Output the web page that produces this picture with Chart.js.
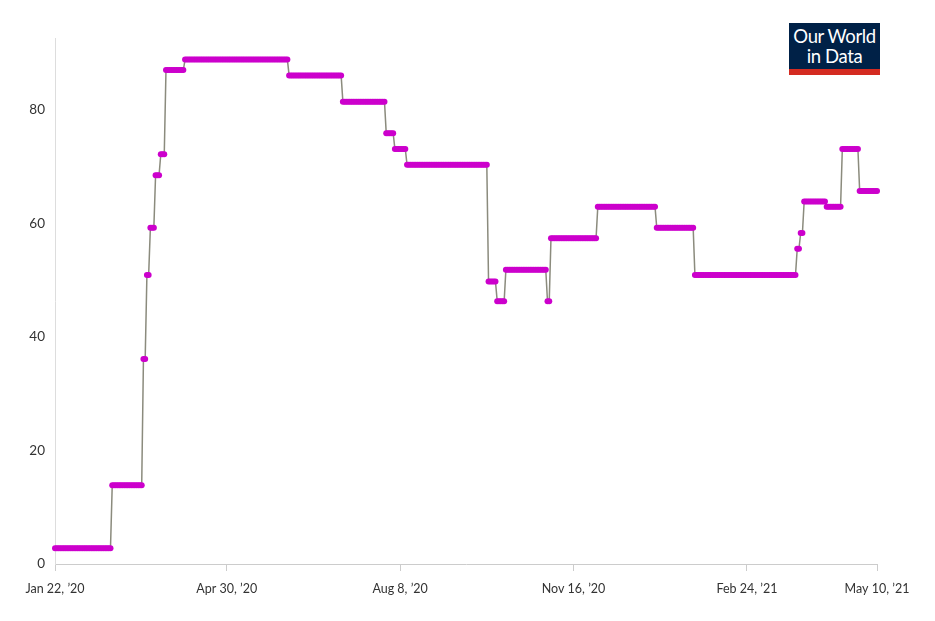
<!DOCTYPE html>
<html>
<head>
<meta charset="utf-8">
<script src="https://cdn.jsdelivr.net/npm/chart.js@4.4.0/dist/chart.umd.min.js"></script>
<style>
  html, body { margin: 0; padding: 0; background: #fff; }
  #wrap { position: relative; width: 935px; height: 621px; }
  #logo { position: absolute; left: 789px; top: 23px; width: 91px; height: 52px; background: #002147; box-sizing: border-box; border-bottom: 6px solid #d42b21; color: #fff; font-family: Lato, sans-serif; font-size: 18.5px; line-height: 19.5px; text-align: center; padding-top: 4px; letter-spacing: -0.4px; }
</style>
</head>
<body>
<div id="wrap">
  <canvas id="c" width="935" height="621"></canvas>
  <div id="logo">Our World<br>in Data</div>
</div>
<script>
// Step data: day offset from Jan 22, 2020 where each level begins, and the level.
const stepStartDays = [0, 33, 51, 53, 55, 58, 61, 64, 75, 135, 166, 191, 196, 203, 250, 255, 260, 284, 286, 313, 347, 369, 428, 430, 432, 445, 454, 464];
const stepValues    = [2.78, 13.89, 36.11, 50.93, 59.26, 68.52, 72.22, 87.04, 88.89, 86.11, 81.48, 75.93, 73.15, 70.37, 49.77, 46.3, 51.85, 46.3, 57.41, 62.96, 59.26, 50.93, 55.56, 58.33, 63.89, 62.96, 73.15, 65.74];
const lastDay = 474;
const xTickDays   = [0, 99, 199, 299, 399, 474];
const xTickLabels = ["Jan 22, \u201920", "Apr 30, \u201920", "Aug 8, \u201920", "Nov 16, \u201920", "Feb 24, \u201921", "May 10, \u201921"];
const yTickValues = [0, 20, 40, 60, 80];

// Expand run-length steps into daily points
const points = [];
for (let i = 0; i < stepStartDays.length; i++) {
  const end = i + 1 < stepStartDays.length ? stepStartDays[i + 1] - 1 : lastDay;
  for (let d = stepStartDays[i]; d <= end; d++) points.push({ x: d, y: stepValues[i] });
}

new Chart(document.getElementById('c'), {
  type: 'line',
  data: {
    datasets: [{
      data: points,
      borderColor: '#8b8b7d',
      borderWidth: 1.5,
      pointBackgroundColor: '#cc00cc',
      pointBorderColor: '#cc00cc',
      pointRadius: 3,
      pointBorderWidth: 0,
      tension: 0,
      clip: false
    }]
  },
  options: {
    responsive: false,
    animation: false,
    layout: { padding: { left: 0, top: 38, right: 58, bottom: 0 } },
    plugins: { legend: { display: false }, tooltip: { enabled: false } },
    scales: {
      x: {
        type: 'linear',
        min: 0,
        max: lastDay,
        afterBuildTicks: s => { s.ticks = xTickDays.map(v => ({ value: v })); },
        afterFit: s => { s.height = 57; },
        grid: { display: true, drawOnChartArea: false, drawTicks: true, tickLength: 7, color: '#cccccc' },
        border: { display: true, color: '#cccccc', width: 1 },
        ticks: {
          autoSkip: false,
          maxRotation: 0,
          padding: 10,
          color: '#333',
          font: { family: 'Lato', size: 12.5 },
          callback: (v) => { const i = xTickDays.indexOf(v); return i >= 0 ? xTickLabels[i] : ''; }
        }
      },
      y: {
        min: 0,
        max: 92.7,
        afterBuildTicks: s => { s.ticks = yTickValues.map(v => ({ value: v })); },
        afterFit: s => { s.width = 55; },
        grid: { display: false, drawTicks: false },
        border: { display: true, color: '#dddddd', width: 1 },
        ticks: {
          padding: 10,
          color: '#333',
          font: { family: 'Lato', size: 13.5 }
        }
      }
    }
  }
});
</script>
</body>
</html>
